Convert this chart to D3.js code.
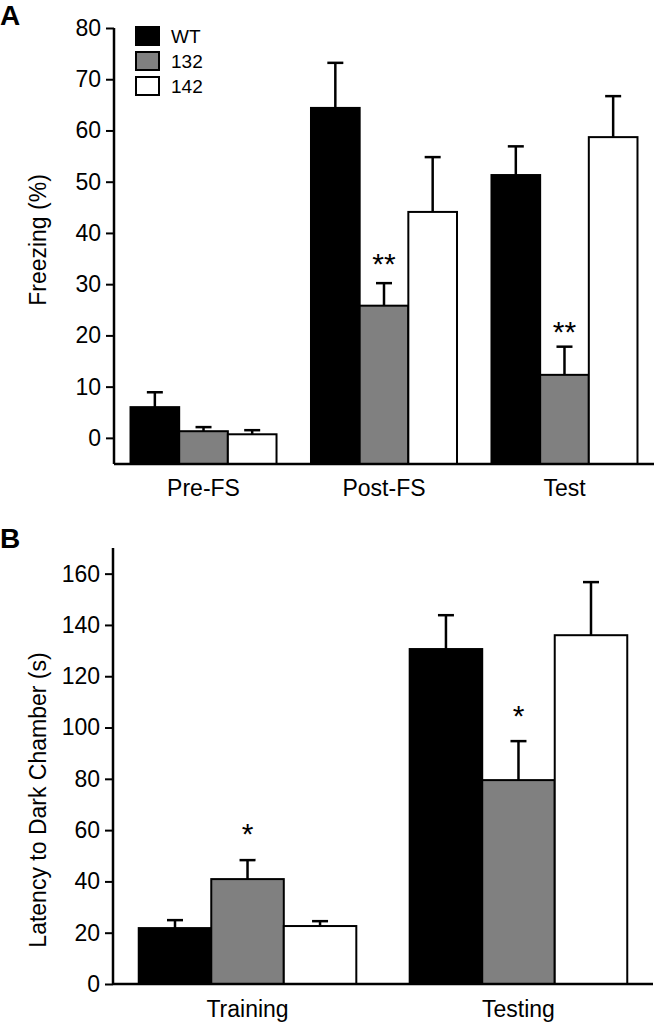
<!DOCTYPE html>
<html><head><meta charset="utf-8">
<script src="https://cdn.jsdelivr.net/npm/d3@7"></script>
<style>body{margin:0;background:#fff}svg{display:block}text{font-family:"Liberation Sans",Arial,sans-serif;fill:#000}</style>
</head><body>
<svg id="c" width="656" height="1024"></svg>
<script>
// ---------- data ----------
const series = ["WT", "132", "142"];
const seriesFill = ["#000000", "#808080", "#ffffff"];

// Panel A: Freezing (%)
const catsA = ["Pre-FS", "Post-FS", "Test"];
const meanA_WT  = [6.0, 64.4, 51.3];
const meanA_132 = [1.3, 25.8, 12.3];
const meanA_142 = [0.7, 44.1, 58.7];
const errA_WT   = [8.9, 73.2, 56.9];   // top of error bar
const errA_132  = [2.1, 30.2, 17.8];
const errA_142  = [1.5, 54.8, 66.7];
const sigA = [{cat: "Post-FS", s: "132", level: 35.3, text: "**"},
              {cat: "Test",    s: "132", level: 22.0, text: "**"}];
const ticksA = [0, 10, 20, 30, 40, 50, 60, 70, 80];

// Panel B: Latency to Dark Chamber (s)
const catsB = ["Training", "Testing"];
const meanB_WT  = [21.8, 130.6];
const meanB_132 = [40.9, 79.5];
const meanB_142 = [22.6, 136.0];
const errB_WT   = [24.9, 143.8];
const errB_132  = [48.3, 94.7];
const errB_142  = [24.5, 156.7];
const sigB = [{cat: "Training", s: "132", level: 61.2, text: "*"},
              {cat: "Testing",  s: "132", level: 107.2, text: "*"}];
const ticksB = [0, 20, 40, 60, 80, 100, 120, 140, 160];

// ---------- drawing ----------
const svg = d3.select("#c");
const FS = 23;

function panel(cfg) {
  const g = svg.append("g");
  const x0 = d3.scaleBand().domain(cfg.cats).range(cfg.xr)
    .paddingInner(cfg.pi).paddingOuter(cfg.po);
  const x1 = d3.scaleBand().domain(series).range([0, x0.bandwidth()]);
  const y = d3.scaleLinear().domain(cfg.yd).range(cfg.yr);
  const rows = [];
  cfg.cats.forEach((c, i) => series.forEach((s, j) => {
    rows.push({c, s, j, v: cfg.means[j][i], e: cfg.errs[j][i]});
  }));
  // error bars (drawn first, bar covers lower part)
  const eb = g.append("g").attr("stroke", "#000").attr("stroke-width", 2.5);
  rows.forEach(d => {
    const cx = x0(d.c) + x1(d.s) + x1.bandwidth() / 2;
    eb.append("line").attr("x1", cx).attr("x2", cx).attr("y1", y(d.v)).attr("y2", y(d.e));
    eb.append("line").attr("x1", cx - 8).attr("x2", cx + 8).attr("y1", y(d.e)).attr("y2", y(d.e));
  });
  // bars
  g.append("g").selectAll("rect").data(rows).join("rect")
    .attr("x", d => x0(d.c) + x1(d.s))
    .attr("width", x1.bandwidth())
    .attr("y", d => y(Math.max(0, d.v)))
    .attr("height", d => y(cfg.yd[0]) - y(d.v))
    .attr("fill", d => seriesFill[d.j])
    .attr("stroke", "#000").attr("stroke-width", 2);
  // y axis
  const ya = g.append("g").attr("transform", `translate(${cfg.xr[0]},0)`)
    .call(d3.axisLeft(y).tickValues(cfg.ticks).tickSize(8).tickPadding(5).tickSizeOuter(0));
  ya.select(".domain").remove();
  ya.selectAll(".tick line").attr("stroke-width", 2);
  ya.selectAll(".tick text").style("font-size", FS + "px").style("font-family", "Liberation Sans, Arial, sans-serif");
  g.append("line").attr("x1", cfg.xr[0]).attr("x2", cfg.xr[0])
    .attr("y1", cfg.yr[1]).attr("y2", cfg.yr[0]).attr("stroke", "#000").attr("stroke-width", 2.5);
  // x axis line
  g.append("line").attr("x1", cfg.xr[0]).attr("x2", cfg.xr[1])
    .attr("y1", cfg.yr[0]).attr("y2", cfg.yr[0]).attr("stroke", "#000").attr("stroke-width", 2.5);
  // category labels
  g.selectAll(".cat").data(cfg.cats).join("text")
    .attr("x", d => x0(d) + x0.bandwidth() / 2)
    .attr("y", cfg.yr[0] + cfg.labDy)
    .attr("text-anchor", "middle").style("font-size", FS + "px").text(d => d);
  // y title
  g.append("text").attr("transform", `translate(46,${cfg.titleY}) rotate(-90)`)
    .attr("text-anchor", "middle").style("font-size", FS + "px").text(cfg.title);
  // significance
  cfg.sig.forEach(d => {
    g.append("text").attr("x", x0(d.cat) + x1(d.s) + x1.bandwidth() / 2)
      .attr("y", y(d.level) + 17).attr("text-anchor", "middle")
      .style("font-size", "30px").text(d.text);
  });
  // panel letter
  g.append("text").attr("x", 0).attr("y", cfg.letterY).style("font-size", "28px")
    .style("font-weight", "bold").text(cfg.letter);
}

panel({cats: catsA, means: [meanA_WT, meanA_132, meanA_142], errs: [errA_WT, errA_132, errA_142],
  xr: [114, 654], pi: 0.191, po: 0.0915, yd: [-5.1, 80], yr: [464, 28], ticks: ticksA,
  labDy: 32, title: "Freezing (%)", titleY: 240, sig: sigA, letter: "A", letterY: 25});

panel({cats: catsB, means: [meanB_WT, meanB_132, meanB_142], errs: [errB_WT, errB_132, errB_142],
  xr: [113, 653], pi: 0.197, po: 0.095, yd: [0, 170], yr: [984, 548], ticks: ticksB,
  labDy: 33, title: "Latency to Dark Chamber (s)", titleY: 800, sig: sigB, letter: "B", letterY: 548});

// legend
const lg = svg.append("g");
series.forEach((s, j) => {
  lg.append("rect").attr("x", 136).attr("y", 27 + j * 25).attr("width", 23).attr("height", 18)
    .attr("fill", seriesFill[j]).attr("stroke", "#000").attr("stroke-width", 2);
  lg.append("text").attr("x", 171).attr("y", 43 + j * 25).style("font-size", "19px").text(s);
});
</script>
</body></html>
